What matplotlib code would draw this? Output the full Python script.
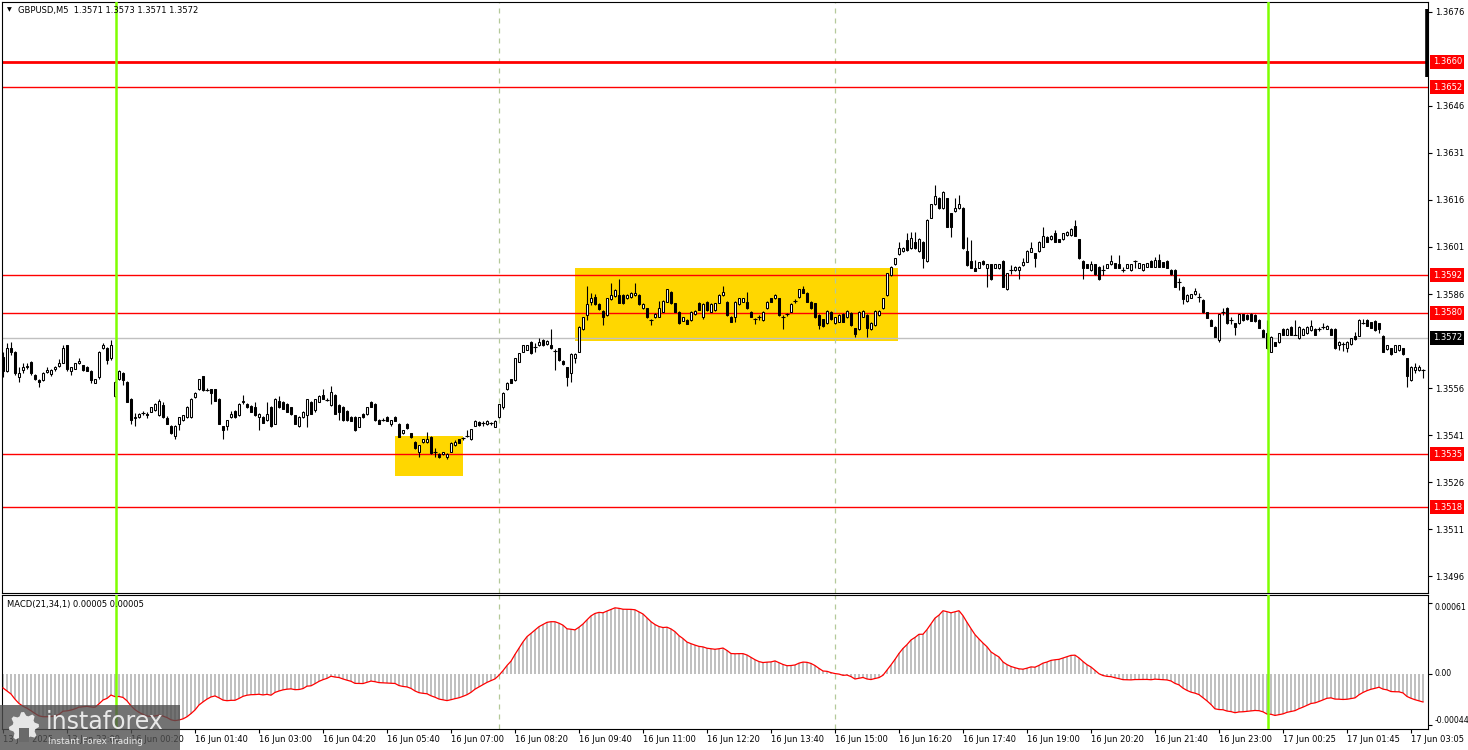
import numpy as np
import matplotlib.pyplot as plt
from matplotlib.patches import Rectangle, Polygon

plt.rcParams['font.family'] = ['DejaVu Sans']

# GBPUSD M5 candles, prices in pips above 1.3500
base = 1.3500
pip = 0.0001

opens = [
    66.0, 61.5, 68.7, 67.6, 59.6, 61.8, 62.6, 64.4, 60.2, 58.5,
    58.6, 61.3, 60.5, 62.0, 63.0, 64.1, 69.7, 61.5, 62.2, 63.9,
    63.3, 62.8, 61.5, 57.8, 59.4, 68.7, 68.7, 65.5, 53.6, 58.9,
    60.9, 58.0, 52.7, 46.5, 46.7, 48.0, 47.7, 48.5, 49.0, 47.4,
    50.6, 46.6, 43.9, 40.7, 44.7, 45.8, 46.9, 46.9, 53.3, 55.6,
    59.8, 55.4, 55.6, 55.6, 52.7, 43.9, 43.9, 46.7, 48.8, 47.4,
    51.5, 50.9, 50.3, 49.9, 46.7, 46.7, 45.8, 49.9, 44.7, 52.0,
    51.7, 51.1, 49.9, 47.4, 43.9, 46.7, 47.4, 51.7, 49.0, 51.7,
    53.8, 52.3, 50.6, 53.8, 50.6, 49.9, 48.8, 46.9, 46.7, 43.7,
    47.7, 47.7, 51.7, 50.9, 46.0, 46.0, 46.7, 44.5, 46.9, 44.7,
    41.6, 44.5, 41.6, 38.9, 35.7, 38.7, 38.7, 40.5, 35.7, 35.0,
    35.0, 33.9, 35.7, 37.9, 39.7, 40.0, 40.5, 39.7, 44.0, 45.3,
    44.8, 44.6, 44.8, 43.7, 46.7, 50.1, 55.6, 58.8, 58.6, 64.4,
    67.6, 68.3, 70.8, 69.2, 69.7, 71.5, 70.0, 69.7, 68.0, 68.7,
    64.7, 62.6, 60.7, 65.5, 67.6, 74.7, 79.3, 83.6, 85.0, 82.8,
    80.7, 79.3, 84.3, 85.4, 85.7, 85.7, 84.6, 85.0, 85.7, 85.7,
    81.4, 81.4, 77.7, 78.6, 78.8, 80.4, 83.6, 86.8, 83.0, 80.4,
    77.5, 77.7, 77.7, 79.6, 83.3, 78.8, 83.6, 80.4, 80.9, 83.3,
    85.7, 83.6, 78.8, 78.8, 82.8, 83.6, 83.6, 80.4, 77.9, 78.6,
    77.7, 81.4, 84.6, 84.6, 84.6, 78.6, 79.6, 80.4, 83.9, 85.0,
    87.5, 86.4, 83.6, 83.0, 79.3, 77.9, 76.7, 80.4, 76.7, 77.2,
    79.6, 78.6, 80.1, 75.1, 74.7, 78.8, 79.3, 74.7, 76.1, 79.3,
    81.4, 85.7, 92.1, 95.5, 98.7, 99.7, 103.2, 100.6, 102.7, 99.7,
    102.7, 96.5, 110.4, 114.6, 116.7, 113.3, 116.5, 111.7, 112.5, 113.3,
    113.5, 99.7, 96.5, 94.4, 94.4, 96.5, 94.4, 95.5, 94.4, 94.2,
    96.5, 87.6, 93.7, 93.7, 93.7, 95.3, 96.3, 99.5, 99.0, 99.7,
    101.1, 104.3, 103.5, 105.4, 103.5, 103.5, 104.8, 104.8, 107.8, 103.5,
    96.5, 95.5, 93.7, 95.5, 94.7, 93.7, 94.4, 95.5, 95.8, 95.5,
    93.7, 94.4, 93.7, 96.5, 94.4, 93.7, 94.7, 96.5, 94.7, 96.8,
    96.1, 96.5, 93.7, 93.7, 89.7, 88.4, 83.8, 84.8, 85.9, 85.2,
    84.1, 80.2, 77.7, 75.6, 71.3, 80.2, 81.6, 77.7, 76.7, 76.7,
    79.5, 79.3, 79.6, 79.3, 77.7, 74.5, 73.5, 67.6, 70.6, 70.6,
    74.9, 73.1, 75.6, 73.0, 71.9, 73.1, 73.5, 74.5, 74.9, 74.9,
    75.6, 74.9, 74.9, 74.9, 69.7, 70.0, 68.7, 70.0, 72.7, 72.7,
    76.7, 77.7, 77.0, 77.4, 76.7, 72.7, 68.5, 68.7, 67.6, 68.2,
    68.7, 65.5, 58.6, 61.8, 61.8, 61.8,
]
highs = [
    67.5, 70.3, 70.8, 68.0, 62.8, 63.9, 64.1, 64.6, 60.5, 58.8,
    61.0, 62.8, 62.0, 63.0, 65.2, 69.7, 69.9, 62.8, 64.0, 65.5,
    63.5, 63.0, 61.8, 59.0, 67.8, 70.3, 69.0, 71.3, 58.3, 61.8,
    61.2, 58.2, 52.9, 48.0, 48.0, 48.8, 48.5, 50.0, 51.2, 52.7,
    51.5, 47.0, 44.2, 44.2, 46.9, 47.6, 50.2, 53.0, 54.7, 59.0,
    60.0, 56.0, 55.8, 55.8, 53.0, 44.0, 46.0, 48.8, 49.0, 51.2,
    53.8, 51.2, 50.6, 51.7, 48.0, 47.0, 51.7, 50.2, 53.0, 53.5,
    52.0, 51.4, 50.1, 47.6, 47.0, 48.8, 52.7, 52.0, 52.7, 53.8,
    55.6, 53.0, 56.7, 54.0, 51.0, 50.2, 49.0, 47.2, 47.0, 46.9,
    48.0, 50.0, 52.0, 51.2, 46.3, 46.5, 47.0, 46.0, 47.2, 45.0,
    42.8, 45.0, 41.8, 39.0, 37.8, 39.8, 42.1, 40.8, 36.8, 35.2,
    35.8, 35.2, 38.8, 39.5, 39.9, 40.5, 42.6, 43.1, 45.8, 45.5,
    45.5, 45.8, 45.2, 45.8, 51.1, 54.8, 57.9, 59.0, 65.7, 67.3,
    69.9, 69.9, 71.0, 70.5, 72.0, 71.7, 71.3, 74.7, 68.5, 68.9,
    64.9, 62.8, 67.1, 67.1, 75.8, 78.8, 88.6, 86.4, 86.0, 83.0,
    80.9, 84.8, 89.4, 87.5, 90.7, 85.9, 85.9, 86.6, 89.4, 85.9,
    83.0, 81.6, 78.2, 79.8, 83.9, 84.1, 87.7, 87.0, 83.2, 80.6,
    78.8, 77.9, 80.6, 80.9, 83.5, 83.0, 83.8, 83.0, 83.2, 85.9,
    88.6, 83.8, 79.0, 83.8, 84.8, 84.8, 86.8, 80.6, 78.5, 79.3,
    80.6, 83.8, 84.8, 85.9, 84.8, 79.2, 80.0, 83.0, 84.4, 87.7,
    88.6, 86.6, 83.8, 83.2, 79.5, 78.1, 80.9, 80.6, 78.8, 79.5,
    79.8, 80.9, 80.3, 75.3, 80.6, 80.9, 79.5, 77.1, 80.9, 80.9,
    84.8, 92.8, 94.9, 97.6, 102.7, 101.0, 105.4, 105.9, 105.9, 104.0,
    102.9, 109.8, 114.8, 120.8, 116.9, 118.8, 116.7, 111.9, 116.5, 117.6,
    113.7, 104.3, 103.2, 97.0, 96.3, 96.7, 95.7, 95.7, 95.7, 95.7,
    96.7, 92.8, 95.3, 94.9, 94.9, 97.4, 99.9, 102.7, 99.2, 102.9,
    107.5, 104.5, 104.8, 106.4, 103.7, 105.6, 106.1, 106.9, 109.6, 103.7,
    96.7, 95.7, 96.5, 95.7, 94.9, 95.3, 95.7, 98.4, 96.0, 98.4,
    94.5, 95.7, 95.7, 96.7, 96.0, 95.7, 96.0, 96.7, 97.8, 98.7,
    96.3, 96.7, 93.9, 93.9, 91.2, 88.6, 85.9, 86.1, 87.8, 86.2,
    84.3, 80.4, 77.9, 75.8, 79.7, 81.4, 81.8, 78.7, 76.9, 79.7,
    79.7, 79.5, 79.8, 79.5, 77.9, 74.7, 77.7, 72.6, 70.8, 73.7,
    75.1, 75.1, 75.8, 77.7, 75.8, 75.1, 75.8, 77.7, 75.1, 75.5,
    76.7, 76.1, 75.1, 75.1, 71.0, 70.8, 71.0, 72.1, 74.0, 77.9,
    77.9, 77.9, 77.2, 77.6, 76.9, 72.9, 69.9, 68.9, 69.9, 69.9,
    68.9, 65.7, 63.0, 64.0, 63.5, 62.0,
]
lows = [
    59.5, 61.0, 66.5, 60.3, 58.0, 60.7, 62.0, 60.3, 58.5, 56.4,
    58.3, 60.7, 60.0, 61.5, 62.8, 64.0, 61.5, 60.2, 62.0, 63.8,
    61.6, 61.4, 57.7, 57.5, 59.0, 68.5, 63.7, 65.0, 53.3, 58.5,
    57.0, 51.5, 44.7, 43.9, 46.5, 47.5, 46.6, 48.3, 48.8, 47.0,
    46.5, 44.5, 41.4, 39.7, 42.6, 45.5, 46.6, 46.5, 53.0, 55.3,
    55.0, 55.0, 51.1, 51.8, 44.5, 39.7, 42.8, 46.5, 46.5, 47.0,
    51.0, 49.7, 48.3, 47.2, 42.8, 44.8, 45.5, 43.7, 44.5, 49.7,
    49.3, 48.3, 47.5, 44.5, 43.5, 46.5, 43.7, 47.7, 48.5, 51.5,
    52.5, 51.8, 50.4, 47.7, 45.8, 45.6, 45.6, 45.4, 42.4, 43.5,
    46.5, 47.5, 50.0, 45.6, 44.5, 45.5, 45.5, 44.0, 45.5, 40.3,
    41.4, 43.0, 40.2, 36.7, 33.9, 38.5, 38.5, 35.0, 34.2, 33.7,
    34.8, 33.5, 35.5, 37.7, 38.4, 39.6, 40.3, 39.5, 43.8, 44.0,
    44.0, 44.4, 44.4, 43.5, 46.5, 49.5, 55.4, 57.5, 58.4, 64.2,
    67.4, 68.1, 66.9, 67.5, 69.5, 69.5, 69.8, 68.5, 61.8, 64.8,
    63.5, 56.6, 58.0, 64.0, 67.4, 74.5, 77.7, 82.5, 82.6, 80.9,
    76.0, 79.1, 84.1, 85.2, 83.1, 82.8, 84.4, 84.8, 85.5, 82.6,
    81.2, 78.4, 76.1, 78.4, 78.6, 80.2, 83.4, 82.8, 80.2, 76.5,
    77.3, 76.3, 77.5, 79.4, 80.8, 78.0, 80.7, 80.2, 80.7, 83.1,
    85.5, 79.1, 77.0, 77.2, 82.6, 83.4, 81.2, 78.6, 76.5, 77.8,
    77.5, 81.2, 83.4, 84.4, 79.1, 75.0, 79.0, 80.2, 83.3, 84.8,
    86.2, 83.4, 81.2, 78.4, 74.7, 75.6, 76.5, 77.8, 76.5, 77.0,
    77.0, 78.4, 75.9, 72.4, 74.5, 78.6, 72.4, 74.5, 75.9, 79.1,
    81.2, 85.5, 91.9, 95.3, 98.5, 99.5, 99.8, 100.4, 100.4, 99.5,
    94.4, 96.3, 110.2, 114.4, 113.1, 113.1, 107.3, 104.3, 112.3, 113.1,
    100.4, 95.1, 94.2, 93.2, 94.2, 95.3, 88.3, 90.6, 94.2, 94.0,
    88.1, 87.4, 92.4, 93.5, 90.8, 95.1, 96.1, 99.3, 94.7, 99.5,
    100.9, 102.5, 103.3, 102.5, 102.5, 103.3, 104.6, 104.6, 104.4, 97.2,
    90.8, 94.2, 93.5, 92.1, 90.6, 92.1, 94.2, 95.3, 94.2, 94.2,
    93.0, 94.2, 93.5, 94.4, 94.2, 93.5, 94.5, 94.5, 94.5, 94.5,
    94.5, 94.2, 92.1, 88.1, 87.3, 82.7, 83.6, 84.6, 85.7, 83.6,
    80.0, 78.3, 75.7, 72.2, 70.6, 79.3, 76.5, 76.6, 73.1, 76.5,
    77.5, 77.7, 77.3, 77.2, 75.1, 72.2, 68.5, 67.4, 69.3, 70.4,
    72.9, 72.9, 72.9, 72.8, 71.7, 72.9, 73.3, 74.3, 72.9, 74.3,
    74.9, 74.7, 72.9, 68.5, 68.3, 68.0, 67.6, 69.8, 71.4, 72.5,
    76.5, 75.7, 75.1, 74.3, 73.5, 67.4, 68.3, 66.6, 67.4, 68.0,
    66.6, 56.5, 58.4, 60.9, 61.6, 59.1,
]
closes = [
    61.5, 68.7, 67.6, 60.7, 60.7, 62.6, 63.2, 60.7, 58.8, 58.0,
    60.7, 61.8, 61.8, 62.6, 64.1, 68.7, 62.0, 62.8, 63.9, 64.7,
    61.8, 61.6, 58.6, 58.8, 67.6, 69.7, 65.0, 69.7, 58.0, 61.6,
    58.6, 51.7, 45.8, 46.9, 47.7, 48.2, 47.4, 49.9, 50.9, 52.0,
    46.9, 44.7, 41.6, 43.9, 46.7, 47.4, 49.9, 52.7, 54.5, 58.8,
    55.4, 55.4, 54.5, 52.0, 44.7, 42.8, 45.8, 47.7, 46.7, 50.9,
    52.0, 49.9, 48.5, 47.4, 47.7, 45.0, 47.7, 43.9, 52.7, 49.9,
    49.5, 48.5, 47.7, 44.7, 46.7, 48.5, 52.4, 47.9, 52.4, 53.5,
    52.7, 52.2, 54.8, 47.9, 48.5, 45.8, 45.8, 45.6, 42.6, 46.7,
    46.7, 49.9, 50.1, 45.8, 44.7, 46.0, 45.6, 45.8, 45.6, 40.5,
    42.6, 43.2, 40.3, 36.8, 37.8, 39.7, 39.7, 35.2, 35.7, 33.9,
    35.5, 35.0, 38.6, 38.9, 38.6, 40.0, 40.7, 42.9, 45.6, 44.2,
    44.8, 45.6, 44.8, 45.6, 50.9, 54.6, 57.7, 57.7, 65.5, 67.1,
    69.7, 69.7, 67.1, 69.2, 70.8, 69.7, 71.1, 68.7, 67.9, 65.0,
    63.7, 59.6, 66.9, 66.9, 75.6, 78.6, 82.8, 84.6, 82.8, 81.1,
    78.6, 84.6, 85.7, 87.3, 83.3, 83.0, 85.7, 86.4, 86.4, 82.8,
    82.8, 78.6, 77.7, 79.6, 81.4, 83.9, 87.5, 83.0, 80.4, 76.7,
    78.6, 76.5, 80.4, 80.7, 81.0, 82.8, 80.9, 82.8, 83.0, 85.7,
    86.8, 79.3, 77.2, 83.6, 84.6, 84.6, 81.4, 78.8, 77.9, 78.6,
    80.4, 83.6, 83.6, 85.7, 79.3, 78.6, 79.6, 82.8, 83.9, 87.5,
    86.4, 83.6, 81.4, 78.6, 76.1, 75.8, 80.7, 78.0, 78.6, 79.3,
    77.2, 80.7, 76.1, 73.3, 80.4, 80.7, 75.1, 76.9, 80.7, 80.7,
    84.6, 92.6, 94.7, 97.4, 100.8, 100.8, 100.0, 103.8, 100.6, 103.5,
    97.4, 109.6, 114.6, 117.4, 113.3, 118.6, 107.5, 107.5, 113.5, 114.6,
    100.6, 95.3, 94.4, 93.4, 96.1, 95.5, 95.5, 90.8, 95.5, 95.5,
    88.3, 92.6, 93.7, 94.7, 94.7, 96.3, 99.7, 100.8, 97.4, 102.7,
    104.6, 102.7, 104.6, 102.7, 102.7, 105.4, 105.9, 106.7, 104.6, 97.4,
    94.4, 94.4, 95.5, 92.3, 90.8, 93.7, 95.5, 96.5, 94.4, 94.4,
    93.7, 95.5, 95.5, 96.5, 95.8, 95.5, 95.8, 94.7, 96.8, 94.7,
    94.7, 94.4, 92.3, 88.3, 89.7, 84.4, 85.7, 85.9, 86.9, 85.2,
    80.2, 78.5, 75.9, 72.4, 79.5, 80.2, 76.7, 77.7, 75.6, 79.5,
    77.7, 77.9, 77.5, 77.4, 75.3, 72.4, 68.7, 72.4, 69.5, 73.5,
    73.1, 74.9, 73.1, 73.0, 75.6, 74.9, 75.6, 75.9, 73.1, 74.9,
    75.6, 75.9, 73.1, 68.7, 70.8, 70.0, 70.8, 71.9, 71.6, 77.7,
    76.7, 75.9, 75.3, 74.5, 75.0, 67.6, 69.7, 66.8, 69.7, 69.7,
    66.8, 60.0, 62.8, 62.8, 62.8, 61.8,
]

# MACD(21,34,1) starting EMA values (carried over from the bars before the window)
ema_fast_start = 1.35803
ema_slow_start = 1.35809

tick_labels = ["13 Jun 2025", "13 Jun 23:00", "16 Jun 00:20", "16 Jun 01:40", "16 Jun 03:00",
               "16 Jun 04:20", "16 Jun 05:40", "16 Jun 07:00", "16 Jun 08:20", "16 Jun 09:40",
               "16 Jun 11:00", "16 Jun 12:20", "16 Jun 13:40", "16 Jun 15:00", "16 Jun 16:20",
               "16 Jun 17:40", "16 Jun 19:00", "16 Jun 20:20", "16 Jun 21:40", "16 Jun 23:00",
               "17 Jun 00:25", "17 Jun 01:45", "17 Jun 03:05"]
tick_step = 16

levels = [1.3660, 1.3652, 1.3592, 1.3580, 1.3535, 1.3518]
level_widths = [2.0, 1.0, 1.0, 1.0, 1.0, 1.0]
price_ticks = [1.3676, 1.3646, 1.3631, 1.3616, 1.3601, 1.3586, 1.3556, 1.3541, 1.3526, 1.3511, 1.3496]
bid = 1.3572
last_spike = (1.36553, 1.36768)

# highlighted ranges: (first bar, last bar, low price, high price)
boxes = [(98.0, 115.0, 1.35280, 1.35407), (143.0, 223.75, 1.35710, 1.35943)]
day_lines = [28.25, 316.25]
session_lines = [124.1, 208.0]

macd_ticks = [0.00061, 0.0, -0.00044]
macd_tick_labels = ["0.00061", "0.00", "-0.00044"]

# ---------------------------------------------------------------
o = base + np.array(opens) * pip
h = base + np.array(highs) * pip
l = base + np.array(lows) * pip
c = base + np.array(closes) * pip
h = np.maximum(h, np.maximum(o, c))
l = np.minimum(l, np.minimum(o, c))
n = len(c)
x = np.arange(n)

ema_f = np.empty(n)
ema_s = np.empty(n)
ef, es = ema_fast_start, ema_slow_start
for k in range(n):
    ef += 2 / 22 * (c[k] - ef)
    es += 2 / 35 * (c[k] - es)
    ema_f[k], ema_s[k] = ef, es
macd = ema_f - ema_s

W, H = 1468, 750
fig = plt.figure(figsize=(W / 100, H / 100), dpi=100)
ax = fig.add_axes([2 / W, 1 - 593 / H, 1426 / W, 591 / H])
ax2 = fig.add_axes([2 / W, 1 - 729 / H, 1426 / W, 134 / H])

xlim = (-0.25, 356.25)
ax.set_xlim(*xlim)
ax.set_ylim(1.34907, 1.36791)
ax2.set_xlim(*xlim)
ax2.set_ylim(-0.000473, 0.000679)

for a in (ax, ax2):
    for s in a.spines.values():
        s.set_linewidth(0.8)
        s.set_color('black')

# highlight boxes
for x0, x1, y0, y1 in boxes:
    ax.add_patch(Rectangle((x0, y0), x1 - x0, y1 - y0, facecolor='#ffd700',
                           edgecolor='none', zorder=1))

# levels
for lv, lw in zip(levels, level_widths):
    ax.axhline(lv, color='red', lw=lw, zorder=2)
ax.axhline(bid, color='#c0c0c0', lw=1, zorder=1.5)

for a in (ax, ax2):
    for sx in session_lines:
        a.axvline(sx, color='#b5c99a', lw=0.9, ls=(0, (4, 4)), zorder=1.2)

# candles
up = c >= o
ax.vlines(x, l, h, color='black', lw=0.8, zorder=3)
body = np.abs(c - o)
doji = body < 0.25 * pip
bottoms = np.minimum(o, c)
ax.bar(x[up & ~doji], body[up & ~doji], bottom=bottoms[up & ~doji], width=0.55,
       color='white', edgecolor='black', linewidth=0.75, zorder=4)
ax.bar(x[~up & ~doji], body[~up & ~doji], bottom=bottoms[~up & ~doji], width=0.55,
       color='black', edgecolor='black', linewidth=0.75, zorder=4)
ax.hlines(c[doji], x[doji] - 0.4, x[doji] + 0.4, color='black', lw=0.8, zorder=4)
ax.vlines(356, last_spike[0], last_spike[1], color='black', lw=2.6, zorder=4, clip_on=False)

# day separators across both panels
for dx in day_lines:
    for a in (ax, ax2):
        a.axvline(dx, color='#7fff00', lw=1.8, zorder=5)

# price axis
ax.yaxis.tick_right()
ax.set_yticks(price_ticks)
ax.set_yticklabels([f"{p:.4f}" for p in price_ticks])
ax.tick_params(axis='y', direction='out', length=3, width=0.8, labelsize=6, pad=2)
ax.set_xticks([])
ytr = ax.get_yaxis_transform()
for lv in levels:
    ax.text(1.0033, lv, f"{lv:.4f}", transform=ytr, color='white', fontsize=6,
            va='center', ha='left', clip_on=False, zorder=6,
            bbox=dict(boxstyle='square,pad=0.3', fc='red', ec='none'))
ax.text(1.0033, bid, f"{bid:.4f}", transform=ytr, color='white', fontsize=6,
        va='center', ha='left', clip_on=False, zorder=6,
        bbox=dict(boxstyle='square,pad=0.3', fc='black', ec='none'))

# MACD panel
ax2.bar(x, macd, width=0.45, color='#c0c0c0', zorder=2)
ax2.plot(x, macd, color='red', lw=0.9, zorder=3)
ax2.yaxis.tick_right()
ax2.set_yticks(macd_ticks)
ax2.set_yticklabels(macd_tick_labels)
ax2.tick_params(axis='y', direction='out', length=3, width=0.8, labelsize=5.6, pad=1.5)
for lbl, va in zip(ax2.get_yticklabels(), ['top', 'center', 'bottom']):
    lbl.set_va(va)
ax2.set_xticks(np.arange(0, n, tick_step))
ax2.set_xticklabels(tick_labels)
ax2.tick_params(axis='x', direction='out', length=3, width=0.8, labelsize=6, pad=1.5)
for lbl in ax2.get_xticklabels():
    lbl.set_ha('left')

# header texts
fig.text(7 / W, 1 - 10 / H, "\u25bc", fontsize=4.5, va='center', ha='left')
fig.text(18 / W, 1 - 10 / H, "GBPUSD,M5  1.3571 1.3573 1.3571 1.3572",
         fontsize=6, va='center', ha='left')
fig.text(7 / W, 1 - 604 / H, "MACD(21,34,1) 0.00005 0.00005",
         fontsize=6, va='center', ha='left')

# watermark logo
fig.patches.append(Rectangle((0, 0), 180 / W, 45 / H, transform=fig.transFigure,
                             facecolor='#505050', alpha=0.8, edgecolor='none', zorder=10))
ang = np.linspace(0, 2 * np.pi, 33)[:-1]
rad = np.where((np.arange(32) // 2) % 2 == 0, 15, 11.5)
gx = (24 + rad * np.cos(ang)) / W
gy = (23 + rad * np.sin(ang)) / H
fig.patches.append(Polygon(np.column_stack([gx, gy]), closed=True, transform=fig.transFigure,
                           facecolor='#e6e6e6', edgecolor='none', zorder=11))
fig.patches.append(Rectangle((19 / W, 8 / H), 10 / W, 14 / H, transform=fig.transFigure,
                             facecolor='#6a6a6a', edgecolor='none', zorder=12))
fig.text(46 / W, 28 / H, "instaforex", fontsize=17, color='#e8e8e8', va='center',
         ha='left', zorder=13)
fig.text(48 / W, 8 / H, "Instant Forex Trading", fontsize=6.5, color='#e8e8e8',
         va='center', ha='left', zorder=13)

fig.savefig("out.png", dpi=100)
